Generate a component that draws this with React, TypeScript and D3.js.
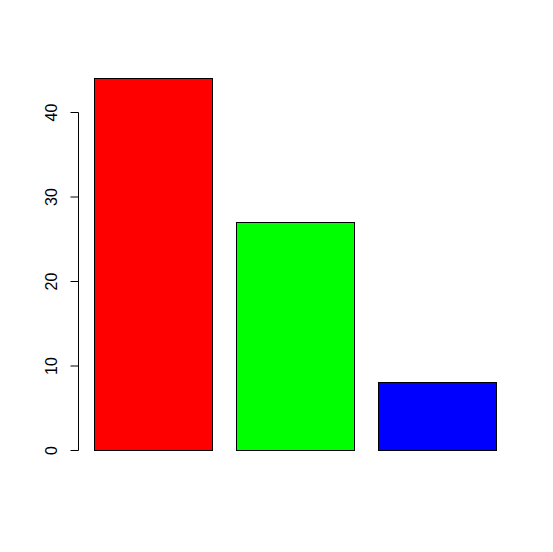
import * as d3 from 'd3'
import { useEffect, useRef } from 'react'

const categories = ['A', 'B', 'C']
const values = [44, 27, 8]
const colors = ['#ff0000', '#00ff00', '#0000ff']
const yTicks = [0, 10, 20, 30, 40]

export default function App() {
  const ref = useRef<SVGSVGElement | null>(null)

  useEffect(() => {
    if (!ref.current) return

    const svg = d3.select(ref.current)
    svg.selectAll('*').remove()

    svg.append('rect')
      .attr('width', 553)
      .attr('height', 552)
      .attr('fill', '#fff')

    const x = d3.scaleBand<string>()
      .domain(categories)
      .range([94, 496.7])
      .paddingInner(1 / 6)
      .paddingOuter(0)

    const y = d3.scaleLinear()
      .domain([0, 40])
      .range([450, 112])

    svg.selectAll('.bar')
      .data(values)
      .join('rect')
      .attr('class', 'bar')
      .attr('x', (d, i) => Math.round(x(categories[i])!) + 0.5)
      .attr('y', d => Math.round(y(d)) + 0.5)
      .attr('width', Math.round(x.bandwidth()))
      .attr('height', d => Math.round(y(0)) - Math.round(y(d)))
      .attr('fill', (d, i) => colors[i])
      .attr('stroke', '#000')
      .attr('stroke-width', 1)

    const axis = svg.append('g')
      .attr('transform', 'translate(78.5, 0)')
      .call(d3.axisLeft(y).tickValues(yTicks).tickSize(8).tickPadding(0).tickFormat(d3.format('d')) as any)

    axis.select('.domain')
      .attr('d', `M0,${Math.round(y(40)) + 0.5}V${Math.round(y(0)) + 0.5}`)
      .attr('stroke', '#000')

    axis.selectAll('.tick line')
      .attr('stroke', '#000')

    axis.selectAll('.tick text')
      .attr('x', 0)
      .attr('dy', 0)
      .attr('transform', 'translate(-26, 0) rotate(-90)')
      .attr('text-anchor', 'middle')
      .attr('dominant-baseline', 'middle')
      .attr('font-family', 'Liberation Sans, Arial, sans-serif')
      .attr('font-size', 16)
      .attr('fill', '#000')
  }, [])

  return (
    <svg
      ref={ref}
      width={553}
      height={552}
      style={{ position: 'absolute', left: 0, top: 0 }}
    />
  )
}
